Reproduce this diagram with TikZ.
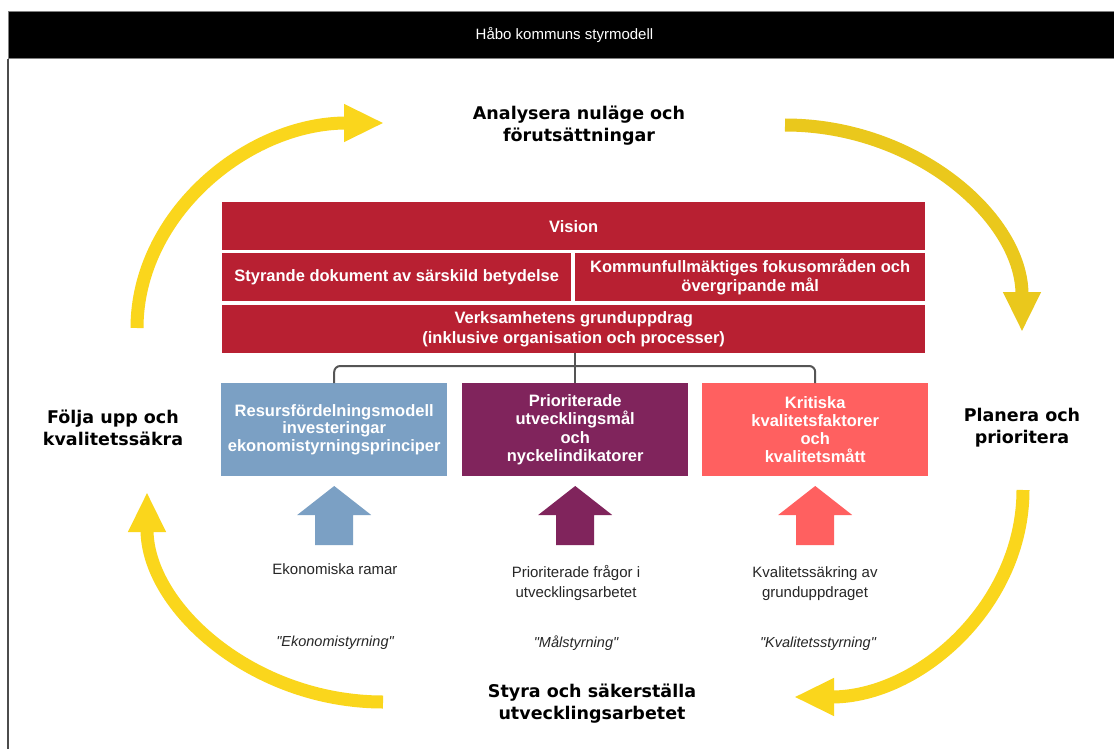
\documentclass[tikz,border=0pt]{standalone}
\usepackage{fontspec}
\setmainfont{Liberation Sans}
\newfontfamily\verd{DejaVu Sans}
\newfontfamily\qfont{Liberation Sans}[Ligatures=TeXOff]
\usetikzlibrary{arrows.meta}
\definecolor{cRed}{HTML}{B82032}
\definecolor{cBlue}{HTML}{7BA0C4}
\definecolor{cPurple}{HTML}{80245C}
\definecolor{cPink}{HTML}{FF6060}
\definecolor{cYel}{HTML}{FAD61C}
\definecolor{cYel2}{HTML}{EAC81C}
\definecolor{cLine}{HTML}{555555}
\tikzset{
  hdr/.style={fill=black, draw=gray, line width=1pt, text=white, anchor=north west,
    font=\fontsize{15}{17}\selectfont},
  redbox/.style={fill=cRed, text=white, align=center, inner sep=0pt, anchor=north west,
    font=\bfseries\fontsize{16.5}{19.5}\selectfont},
  lowbox/.style={text=white, align=center, inner sep=0pt, anchor=north west,
    minimum width=226pt, minimum height=93pt,
    font=\bfseries\fontsize{16.5}{18.2}\selectfont},
  biglabel/.style={align=center, inner sep=0pt, font=\verd\bfseries\fontsize{17.5}{22}\selectfont},
  smalltext/.style={align=center, inner sep=0pt, text=black!85, font=\fontsize{15}{20}\selectfont},
  quotetext/.style={align=center, inner sep=0pt, text=black!85, font=\qfont\itshape\fontsize{14.5}{20}\selectfont},
  conn/.style={draw=cLine, line width=2pt},
  yarrow/.style={line width=13pt, -{Triangle[width=35pt,length=40pt]}},
  uparrow/.pic={\fill (0,0) -- (37,29) -- (19,29) -- (19,59) -- (-19,59) -- (-19,29) -- (-37,29) -- cycle;}
}
\begin{document}
\begin{tikzpicture}[x=1pt,y=-1pt]
\useasboundingbox (0,0) rectangle (1114,749);
\fill[white] (0,0) rectangle (1114,749);

% header and frame
\node[hdr, minimum width=1112pt, minimum height=47pt] (hdr) at (8,11) {Håbo kommuns styrmodell};
\draw[draw=gray!60!black, line width=1.3pt] (hdr.south west) -- (8,749);

% red block
\node[redbox, minimum width=703pt, minimum height=48pt] (vision) at (222,202) {Vision};
\node[redbox, minimum width=349pt, minimum height=48pt] (styr) at (222,253) {Styrande dokument av särskild betydelse};
\node[redbox, minimum width=350pt, minimum height=48pt] (kf) at (575,253) {Kommunfullmäktiges fokusområden och\\övergripande mål};
\node[redbox, minimum width=703pt, minimum height=48pt] (verk) at (222,305) {Verksamhetens grunduppdrag\\(inklusive organisation och processer)};

% lower boxes
\node[lowbox, fill=cBlue, font=\bfseries\fontsize{16.5}{17.5}\selectfont] (blue) at (221,383) {Resursfördelningsmodell\\investeringar\\ekonomistyrningsprinciper};
\node[lowbox, fill=cPurple] (purple) at (462,383) {Prioriterade\\utvecklingsmål\\och\\nyckelindikatorer};
\node[lowbox, fill=cPink] (pink) at (702,383) {Kritiska\\kvalitetsfaktorer\\och\\kvalitetsmått};

% connectors
\coordinate (bar) at (0,366);
\draw[conn, rounded corners=6pt] (blue.north) -- (blue.north |- bar) -- (pink.north |- bar) -- (pink.north);
\draw[conn] (verk.south -| purple.north) -- (purple.north);

% up arrows
\pic[fill=cBlue] at (blue.south |- 0,486) {uparrow};
\pic[fill=cPurple] at (purple.south |- 0,486) {uparrow};
\pic[fill=cPink] at (pink.south |- 0,486) {uparrow};

% small texts
\node[smalltext] (t1) at (335,569) {Ekonomiska ramar};
\node[smalltext] (t2) at (576,583) {Prioriterade frågor i\\utvecklingsarbetet};
\node[smalltext] (t3) at (815,584) {Kvalitetssäkring av\\grunduppdraget};
\node[quotetext] (q1) at (335,643) {"Ekonomistyrning"};
\node[quotetext] (q2) at (576,643) {"Målstyrning"};
\node[quotetext] (q3) at (818,644) {"Kvalitetsstyrning"};

% big labels
\node[biglabel] (analys) at (579,126) {Analysera nuläge och\\förutsättningar};
\node[biglabel] (folja) at (113,428) {Följa upp och\\kvalitetssäkra};
\node[biglabel] (planera) at (1022,428) {Planera och\\prioritera};
\node[biglabel] (styra) at (592,704) {Styra och säkerställa\\utvecklingsarbetet};

% cycle arrows
\coordinate (a1s) at (137,328); \coordinate (a1e) at (384,123);
\coordinate (a2s) at (785,125); \coordinate (a2e) at (1022,332);
\coordinate (a3s) at (1023,490); \coordinate (a3e) at (794,697);
\coordinate (a4s) at (383,702); \coordinate (a4e) at (147,492);
\draw[yarrow, draw=cYel] (a1s) .. controls (137,215) and (247,123) .. (a1e);
\draw[yarrow, draw=cYel2] (a2s) .. controls (916,125) and (1022,218) .. (a2e);
\draw[yarrow, draw=cYel] (a3s) .. controls (1023,604) and (920,697) .. (a3e);
\draw[yarrow, draw=cYel] (a4s) .. controls (253,702) and (147,607) .. (a4e);
\end{tikzpicture}
\end{document}
